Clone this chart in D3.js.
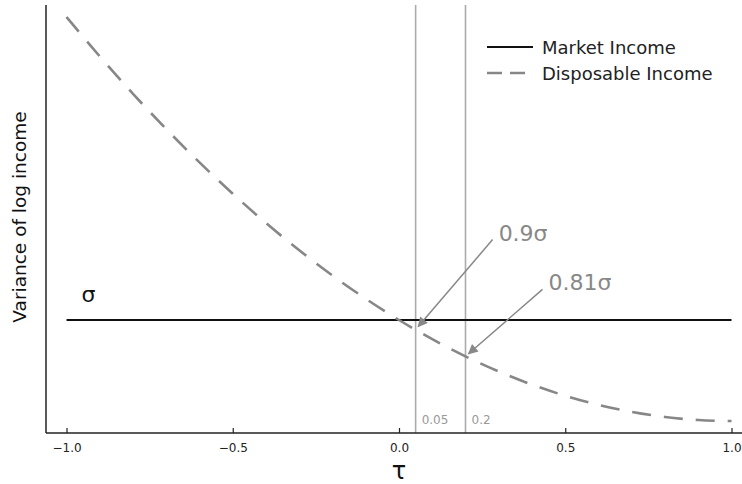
<!DOCTYPE html>
<html>
<head>
<meta charset="utf-8">
<script src="https://cdn.jsdelivr.net/npm/d3@7"></script>
<style>
  html, body { margin: 0; padding: 0; background: #fff; }
  svg { display: block; font-family: "DejaVu Sans", sans-serif; }
</style>
</head>
<body>
<svg id="chart" width="742" height="484"></svg>
<script>
// Tax rate grid and variance of log income (in units of σ)
const tau = [-1.0, -0.9, -0.8, -0.7, -0.6, -0.5, -0.4, -0.3, -0.2, -0.1, 0.0,
             0.1, 0.2, 0.3, 0.4, 0.5, 0.6, 0.7, 0.8, 0.9, 1.0];
const marketIncome = [1, 1, 1, 1, 1, 1, 1, 1, 1, 1, 1,
                      1, 1, 1, 1, 1, 1, 1, 1, 1, 1];
const disposableIncome = [4.0, 3.61, 3.24, 2.89, 2.56, 2.25, 1.96, 1.69, 1.44, 1.21, 1.0,
                          0.81, 0.64, 0.49, 0.36, 0.25, 0.16, 0.09, 0.04, 0.01, 0.0];
const xTicks = [-1.0, -0.5, 0.0, 0.5, 1.0];

// Reference tax rates and their annotations
const refTau = [0.05, 0.2];
const refLabels = ["0.9σ", "0.81σ"];

const seriesNames = ["Market Income", "Disposable Income"];

const svg = d3.select("#chart");

const x = d3.scaleLinear().domain([-1, 1]).range([66.5, 731.5]);
const y = d3.scaleLinear().domain([0, 1]).range([421, 320]);

const axisColor = "#222";
const curveColor = "#878787";
const refColor = "#ababab";
const noteColor = "#888";

// frame: left spine and bottom spine
const plotLeft = 46, plotTop = 5, plotBottom = 433, plotRight = 742;

// vertical reference lines
svg.append("g").selectAll("line").data(refTau).join("line")
  .attr("x1", d => x(d)).attr("x2", d => x(d))
  .attr("y1", plotTop).attr("y2", plotBottom)
  .attr("stroke", refColor).attr("stroke-width", 1.6);

svg.append("g").selectAll("text").data(refTau).join("text")
  .attr("x", d => x(d) + 6).attr("y", plotBottom - 9)
  .attr("font-size", 12).attr("fill", "#999")
  .text(d => String(d));

// market income
const line = d3.line().x((d, i) => x(tau[i])).curve(d3.curveMonotoneX);

svg.append("path")
  .datum(marketIncome)
  .attr("d", line.y(d => y(d)))
  .attr("fill", "none").attr("stroke", "#111").attr("stroke-width", 2);

// disposable income
svg.append("path")
  .datum(disposableIncome)
  .attr("d", line.y(d => y(d)))
  .attr("fill", "none").attr("stroke", curveColor).attr("stroke-width", 2.6)
  .attr("stroke-dasharray", "19,13");

// axes
svg.append("line")
  .attr("x1", plotLeft).attr("x2", plotLeft).attr("y1", plotTop).attr("y2", plotBottom)
  .attr("stroke", axisColor).attr("stroke-width", 1.5);

const xAxis = svg.append("g")
  .attr("transform", `translate(0,${plotBottom})`)
  .call(d3.axisBottom(x).tickValues(xTicks).tickSizeInner(-5).tickSizeOuter(0)
        .tickFormat(d => d3.format(".1f")(d).replace("-", "−")));
xAxis.select(".domain").remove();
xAxis.selectAll(".tick line").attr("stroke", axisColor).attr("stroke-width", 1.2);
xAxis.selectAll(".tick text")
  .attr("y", 10).attr("dy", "0.71em")
  .attr("font-family", "DejaVu Sans").attr("font-size", 12).attr("fill", axisColor);

svg.append("line")
  .attr("x1", plotLeft).attr("x2", plotRight).attr("y1", plotBottom).attr("y2", plotBottom)
  .attr("stroke", axisColor).attr("stroke-width", 1.5);

// axis titles
svg.append("text")
  .attr("x", x(0)).attr("y", 479)
  .attr("text-anchor", "middle").attr("font-size", 24).attr("fill", "#111")
  .text("τ");

svg.append("text")
  .attr("transform", "translate(26,217) rotate(-90)")
  .attr("text-anchor", "middle").attr("font-size", 18.5).attr("fill", "#111")
  .text("Variance of log income");

// σ level label
svg.append("text")
  .attr("x", x(-1) + 22).attr("y", y(1) - 18)
  .attr("text-anchor", "middle").attr("font-size", 22).attr("fill", "#111")
  .text("σ");

// legend
const legend = svg.append("g").attr("transform", "translate(487,47)");
seriesNames.forEach((name, i) => {
  const g = legend.append("g").attr("transform", `translate(0,${i * 26})`);
  g.append("line").attr("x1", 0).attr("x2", 46).attr("y1", 0).attr("y2", 0)
    .attr("stroke", i === 0 ? "#111" : curveColor)
    .attr("stroke-width", i === 0 ? 2 : 2.4)
    .attr("stroke-dasharray", i === 0 ? null : "15,8");
  g.append("text").attr("x", 55).attr("y", 6.5)
    .attr("font-size", 18).attr("fill", "#222").text(name);
});

// arrow annotations pointing at the disposable income curve
const defs = svg.append("defs");
defs.append("marker")
  .attr("id", "arrowhead")
  .attr("viewBox", "0 0 10 10").attr("refX", 9).attr("refY", 5)
  .attr("markerWidth", 12).attr("markerHeight", 10)
  .attr("markerUnits", "userSpaceOnUse")
  .attr("orient", "auto")
  .append("path").attr("d", "M0,0 L10,5 L0,10 Z").attr("fill", noteColor);

const curveAt = t => {
  const i = d3.bisectLeft(tau, t);
  if (tau[i] === t) return disposableIncome[i];
  const f = (t - tau[i - 1]) / (tau[i] - tau[i - 1]);
  return disposableIncome[i - 1] * (1 - f) + disposableIncome[i] * f;
};

const notes = svg.append("g");
const startOffsets = [[77, -90], [77, -67]];
refTau.forEach((t, i) => {
  const px = x(t), py = y(curveAt(t));
  const sx = px + startOffsets[i][0], sy = py + startOffsets[i][1];
  const len = Math.hypot(sx - px, sy - py);
  const ex = px + (sx - px) / len * 4, ey = py + (sy - py) / len * 4;
  notes.append("line")
    .attr("x1", sx).attr("y1", sy).attr("x2", ex).attr("y2", ey)
    .attr("stroke", noteColor).attr("stroke-width", 1.5)
    .attr("marker-end", "url(#arrowhead)");
  notes.append("text")
    .attr("x", sx + 6).attr("y", sy + 1)
    .attr("font-size", 22).attr("fill", noteColor)
    .text(refLabels[i]);
});
</script>
</body>
</html>
